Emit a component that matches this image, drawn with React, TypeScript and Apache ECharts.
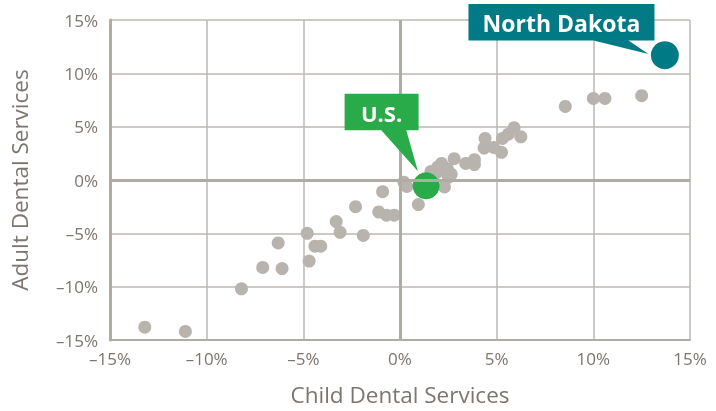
import { useEffect, useRef } from "react";
import * as echarts from "echarts";

// Percent change, child dental services (x) vs adult dental services (y), by state
const childDental = [-13.2, -11.1, -8.2, -7.1, -6.1, -6.3, -4.8, -4.7, -4.4, -4.1, -3.3, -3.1, -2.3, -1.9, -0.9, -1.1, -0.7, -0.3, 0.2, 0.35, 0.95, 1.6, 1.6, 1.9, 1.95, 2.15, 2.45, 2.5, 2.65, 2.3, 2.8, 3.4, 3.85, 3.85, 4.4, 4.35, 4.85, 5.25, 5.3, 5.6, 5.9, 6.25, 8.55, 10.0, 10.6, 12.5];
const adultDental = [-13.8, -14.2, -10.2, -8.2, -8.3, -5.9, -5.0, -7.6, -6.2, -6.2, -3.9, -4.9, -2.5, -5.2, -1.1, -3.0, -3.3, -3.3, -0.2, -0.6, -2.3, 0.8, 0.4, 0.7, 1.2, 1.55, 1.05, 0.25, 0.55, -0.65, 2.0, 1.55, 1.9, 1.45, 3.9, 3.0, 3.05, 2.6, 3.9, 4.3, 4.9, 4.05, 6.9, 7.65, 7.65, 7.9];
const usPoint = [1.35, -0.55];
const northDakota = [13.7, 11.7];
const axisMin = -15;
const axisMax = 15;
const axisStep = 5;
const usLabel = "U.S.";
const ndLabel = "North Dakota";

const FONT = '"Open Sans", "Noto Sans", sans-serif';
const TEXT = "#7d756f";
const GRID = "#bdb7b2";
const AXIS = "#b1aba6";
const DOT = "#b9b3ae";
const TEAL = "#007b85";
const GREEN = "#2aab4a";

const fmt = (v: number) => (v < 0 ? "\u2013" : "") + Math.abs(v) + "%";

export default function App() {
  const ref = useRef<HTMLDivElement>(null);
  useEffect(() => {
    const chart = echarts.init(ref.current!, null, { renderer: "svg" });
    const axisCommon = {
      type: "value",
      min: axisMin,
      max: axisMax,
      interval: axisStep,
      axisTick: { show: false },
      splitLine: { show: true, lineStyle: { color: GRID, width: 1.5 } },
      axisLabel: { color: TEXT, fontSize: 17, fontFamily: FONT, formatter: fmt },
      nameTextStyle: { color: TEXT, fontSize: 22.5, fontFamily: FONT },
      nameLocation: "middle",
    };
    chart.setOption({
      animation: false,
      grid: { left: 110, right: 26, top: 20, bottom: 69 },
      xAxis: {
        ...axisCommon,
        name: "Child Dental Services",
        nameGap: 43,
        axisLine: { show: true, onZero: false, lineStyle: { color: AXIS, width: 2 } },
        axisLabel: { ...axisCommon.axisLabel, margin: 10 },
      },
      yAxis: {
        ...axisCommon,
        name: "Adult Dental Services",
        nameGap: 79,
        nameRotate: 90,
        axisLine: { show: true, onZero: false, lineStyle: { color: AXIS, width: 3 } },
        axisLabel: { ...axisCommon.axisLabel, margin: 12 },
      },
      series: [
        {
          type: "line",
          data: [],
          z: 1,
          silent: true,
          markLine: {
            silent: true,
            symbol: "none",
            label: { show: false },
            lineStyle: { color: AXIS, width: 3, type: "solid" },
            data: [{ xAxis: 0 }, { yAxis: 0 }],
          },
        },
        {
          type: "scatter",
          z: 3,
          symbolSize: 13,
          itemStyle: { color: DOT, opacity: 1 },
          data: childDental.map((c, i) => [c, adultDental[i]]),
        },
        {
          type: "scatter",
          z: 4,
          symbolSize: 27,
          itemStyle: { color: GREEN, opacity: 1 },
          data: [usPoint],
        },
        {
          type: "scatter",
          z: 4,
          symbolSize: 28,
          itemStyle: { color: TEAL, opacity: 1 },
          data: [northDakota],
        },
      ],
    });

    const us = chart.convertToPixel({ gridIndex: 0 }, usPoint) as number[];
    const nd = chart.convertToPixel({ gridIndex: 0 }, northDakota) as number[];
    const callout = (
      p: number[],
      L: number, R: number, T: number, B: number,
      b1: number, b2: number, tx: number, ty: number,
      color: string, text: string, size: number
    ) => [
      {
        type: "polygon",
        z: 100,
        shape: {
          points: [
            [p[0] + L, p[1] + T],
            [p[0] + R, p[1] + T],
            [p[0] + R, p[1] + B],
            [p[0] + b2, p[1] + B],
            [p[0] + tx, p[1] + ty],
            [p[0] + b1, p[1] + B],
            [p[0] + L, p[1] + B],
          ],
        },
        style: { fill: color },
      },
      {
        type: "text",
        z: 101,
        x: p[0] + (L + R) / 2,
        y: p[1] + (T + B) / 2 + 1,
        style: {
          text,
          fill: "#ffffff",
          fontSize: size,
          fontWeight: "bold",
          fontFamily: FONT,
          align: "center",
          verticalAlign: "middle",
        },
      },
    ];
    chart.setOption({
      graphic: [
        ...callout(nd, -196.4, -10.4, -51.3, -14.6, -71.4, -36.4, -16.4, -1.3, TEAL, ndLabel, 23),
        ...callout(us, -81.5, -7.5, -92.2, -55.5, -44.8, -19.8, -8.2, -14.5, GREEN, usLabel, 22),
      ],
    });
    return () => chart.dispose();
  }, []);
  return (
    <div
      ref={ref}
      style={{ position: "fixed", left: 0, top: 0, width: 716, height: 411 }}
    />
  );
}
